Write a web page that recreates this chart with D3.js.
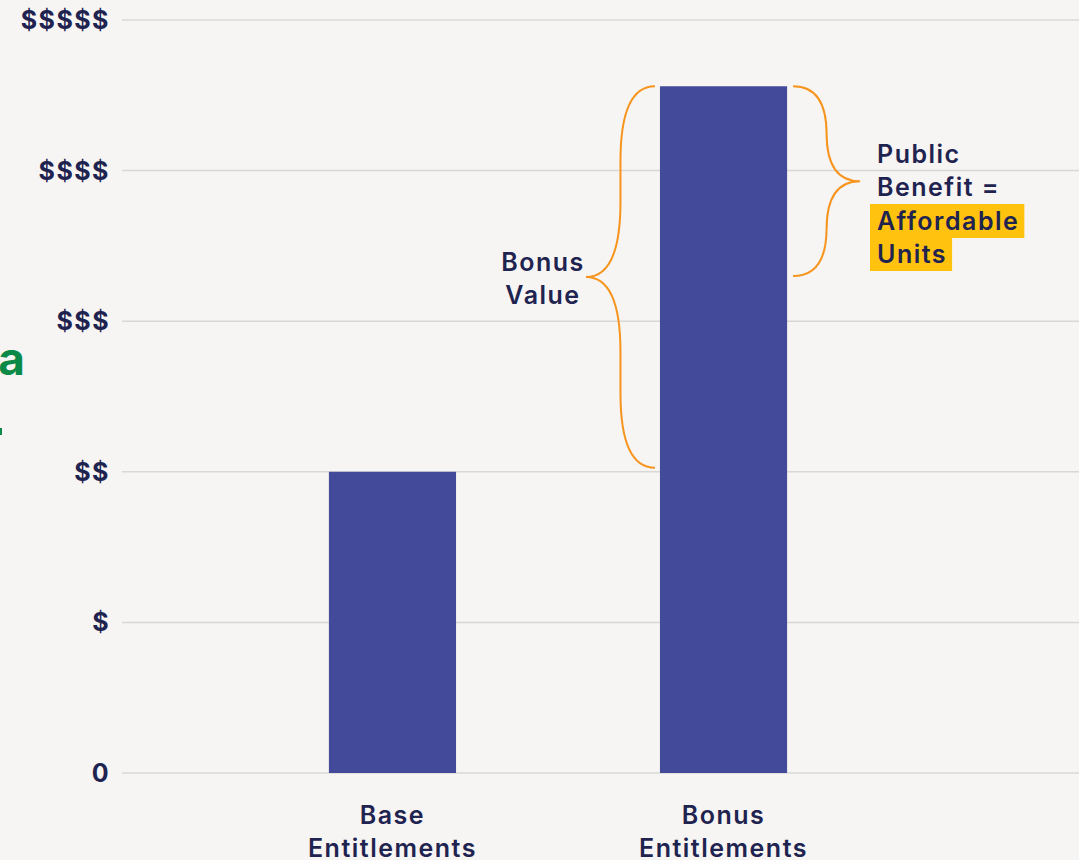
<!DOCTYPE html>
<html>
<head>
<meta charset="utf-8">
<script src="https://cdn.jsdelivr.net/npm/d3@7"></script>
<style>
  html, body { margin: 0; padding: 0; background: #f6f5f3; }
  svg { display: block; font-family: Inter, "Noto Sans", sans-serif; }
</style>
</head>
<body>
<svg width="1079" height="860"></svg>
<script>
// data
const categories = [["Base", "Entitlements"], ["Bonus", "Entitlements"]];
const values = [2, 4.56];
const tickValues = [0, 1, 2, 3, 4, 5];
const tickLabels = ["0", "$", "$$", "$$$", "$$$$", "$$$$$"];
const publicBenefitFrom = 3.3; // lower end of the right brace

const svg = d3.select("svg");
const W = 1079;
const ink = "#1f2350";
const orange = "#f7941d";

const y = d3.scaleLinear().domain([0, 5]).range([773, 20]);
const x = d3.scaleBand()
  .domain(d3.range(categories.length))
  .range([122, 994])
  .paddingInner(0.616)
  .paddingOuter(0.625);

// cropped green text at left edge
svg.append("text")
  .attr("x", 25).attr("y", 375)
  .attr("text-anchor", "end")
  .attr("font-size", 46).attr("font-weight", 700)
  .attr("fill", "#0b8a47")
  .text("a");
svg.append("rect")
  .attr("x", 0).attr("y", 428).attr("width", 2).attr("height", 7)
  .attr("fill", "#0b8a47");

// grid + y labels
const grid = svg.append("g");
grid.selectAll("line").data(tickValues).enter().append("line")
  .attr("x1", 122).attr("x2", W)
  .attr("y1", d => y(d)).attr("y2", d => y(d))
  .attr("stroke", "#d8d8d6").attr("stroke-width", 1.5);

svg.append("g").selectAll("text").data(tickValues).enter().append("text")
  .attr("x", 110).attr("y", d => y(d))
  .attr("dy", "0.36em")
  .attr("text-anchor", "end")
  .attr("font-size", 25).attr("font-weight", 700)
  .attr("letter-spacing", 1.5)
  .attr("fill", ink)
  .text((d, i) => tickLabels[i]);

// bars
svg.append("g").selectAll("rect").data(values).enter().append("rect")
  .attr("x", (d, i) => x(i))
  .attr("width", x.bandwidth())
  .attr("y", d => y(d))
  .attr("height", d => y(0) - y(d))
  .attr("fill", "#434a9a");

// x labels
const xl = svg.append("g").selectAll("text").data(categories).enter().append("text")
  .attr("x", (d, i) => x(i) + x.bandwidth() / 2)
  .attr("y", 824)
  .attr("text-anchor", "middle")
  .attr("font-size", 25).attr("font-weight", 600)
  .attr("letter-spacing", 1.5)
  .attr("fill", ink);
xl.selectAll("tspan").data(d => d).enter().append("tspan")
  .attr("x", function () { return this.parentNode.getAttribute("x"); })
  .attr("dy", (d, i) => i ? 33 : 0)
  .text(d => d);

// curly brace
function brace(xTip, xPoint, y0, y1, r) {
  const xs = (xTip + xPoint) / 2, ym = (y0 + y1) / 2;
  const p = d3.path();
  p.moveTo(xTip, y0);
  p.quadraticCurveTo(xs, y0, xs, y0 + r);
  p.lineTo(xs, ym - r);
  p.quadraticCurveTo(xs, ym, xPoint, ym);
  p.quadraticCurveTo(xs, ym, xs, ym + r);
  p.lineTo(xs, y1 - r);
  p.quadraticCurveTo(xs, y1, xTip, y1);
  return p.toString();
}

const bx = x(1), bw = x.bandwidth();
svg.append("path")
  .attr("d", brace(bx - 5, bx - 74, y(values[1]), y(values[0]) - 4, 75))
  .attr("fill", "none").attr("stroke", orange).attr("stroke-width", 2);
svg.append("path")
  .attr("d", brace(bx + bw + 6, bx + bw + 73, y(values[1]), y(publicBenefitFrom), 48))
  .attr("fill", "none").attr("stroke", orange).attr("stroke-width", 2);

// annotations
const bt = svg.append("text")
  .attr("x", 543).attr("y", 271)
  .attr("text-anchor", "middle")
  .attr("font-size", 25).attr("font-weight", 600)
  .attr("letter-spacing", 1.5)
  .attr("fill", ink);
bt.selectAll("tspan").data(["Bonus", "Value"]).enter().append("tspan")
  .attr("x", 543).attr("dy", (d, i) => i ? 33 : 0).text(d => d);

const pbLines = ["Public", "Benefit =", "Affordable", "Units"];
const pbY = [154, 187, 221, 254];
const pb = svg.append("g");
pb.selectAll("rect").data(pbLines.slice(2)).enter().append("rect")
  .attr("x", 870)
  .attr("y", (d, i) => pbY[i + 2] - 17)
  .attr("height", 34)
  .attr("fill", "#ffc20e")
  .attr("width", 0);
pb.selectAll("text").data(pbLines).enter().append("text")
  .attr("x", 877).attr("y", (d, i) => pbY[i])
  .attr("dy", "0.36em")
  .attr("font-size", 25).attr("font-weight", 600)
  .attr("letter-spacing", 1.5)
  .attr("fill", ink)
  .text(d => d);
// size highlight boxes to their text
pb.selectAll("rect").attr("width", (d, i) => {
  const t = pb.selectAll("text").nodes()[i + 2];
  return t.getComputedTextLength() + 12;
});
</script>
</body>
</html>
